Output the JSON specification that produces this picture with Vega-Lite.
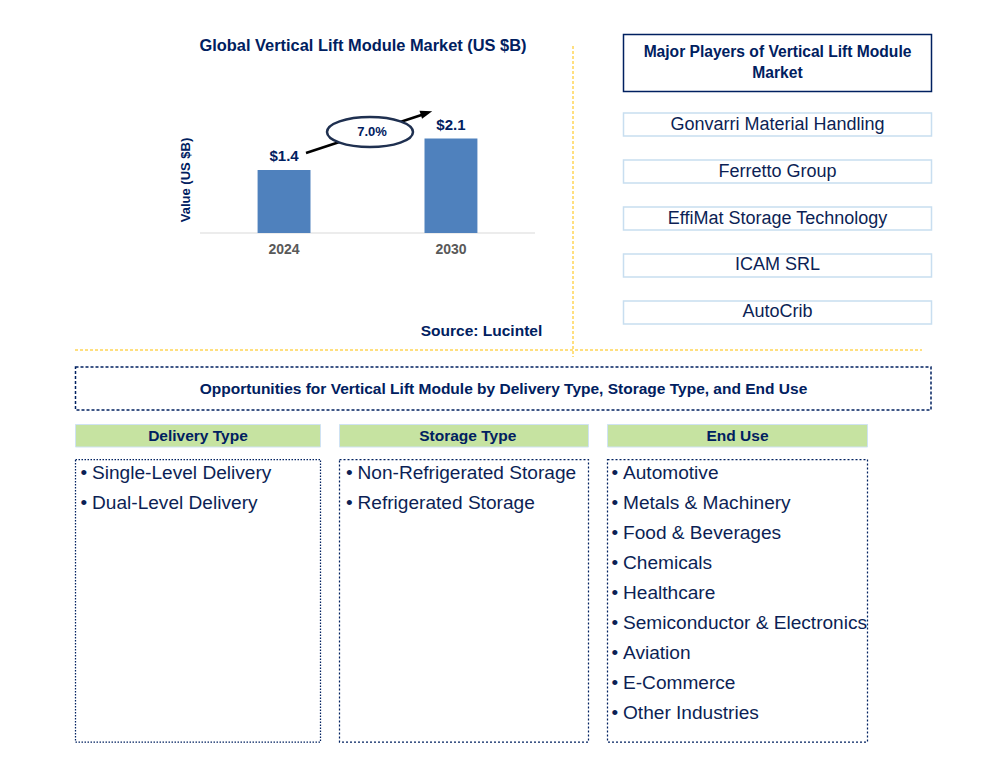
{
  "$schema": "https://vega.github.io/schema/vega-lite/v6.json",
  "width": 996,
  "height": 763,
  "autosize": "none",
  "padding": 0,
  "background": "white",
  "config": {"view": {"stroke": null}, "font": "Liberation Sans"},
  "datasets": {
    "market": [
      {"year": "2024", "value": 1.4, "label": "$1.4"},
      {"year": "2030", "value": 2.1, "label": "$2.1"}
    ],
    "players": [
      {"player": "Gonvarri Material Handling"},
      {"player": "Ferretto Group"},
      {"player": "EffiMat Storage Technology"},
      {"player": "ICAM SRL"},
      {"player": "AutoCrib"}
    ],
    "segments": [
      {"segment": "Delivery Type"},
      {"segment": "Storage Type"},
      {"segment": "End Use"}
    ],
    "opportunities": [
      {"segment": "Delivery Type", "item": "Single-Level Delivery"},
      {"segment": "Delivery Type", "item": "Dual-Level Delivery"},
      {"segment": "Storage Type", "item": "Non-Refrigerated Storage"},
      {"segment": "Storage Type", "item": "Refrigerated Storage"},
      {"segment": "End Use", "item": "Automotive"},
      {"segment": "End Use", "item": "Metals & Machinery"},
      {"segment": "End Use", "item": "Food & Beverages"},
      {"segment": "End Use", "item": "Chemicals"},
      {"segment": "End Use", "item": "Healthcare"},
      {"segment": "End Use", "item": "Semiconductor & Electronics"},
      {"segment": "End Use", "item": "Aviation"},
      {"segment": "End Use", "item": "E-Commerce"},
      {"segment": "End Use", "item": "Other Industries"}
    ]
  },
  "layer": [
    {
      "data": {"name": "market"},
      "mark": {"type": "line", "color": "#d9d9d9", "strokeWidth": 1},
      "encoding": {
        "x": {"field": "year", "type": "nominal", "scale": {"type": "point", "domain": ["2024", "2030"], "range": [200, 535], "padding": 0}, "axis": null},
        "y": {"datum": 0, "type": "quantitative", "scale": {"domain": [0, 3], "range": [233, 98], "nice": false, "zero": true}, "axis": null}
      }
    },
    {
      "data": {"name": "market"},
      "mark": {"type": "bar", "color": "#4f81bd"},
      "encoding": {
        "x": {"field": "year", "type": "nominal", "scale": {"type": "band", "domain": ["2024", "2030"], "range": [200, 535], "paddingInner": 0.683, "paddingOuter": 0.345}, "axis": null},
        "y": {"field": "value", "type": "quantitative", "scale": {"domain": [0, 3], "range": [233, 98], "nice": false, "zero": true}, "axis": null}
      }
    },
    {
      "data": {"name": "market"},
      "mark": {"type": "text", "fontSize": 15, "fontWeight": "bold", "color": "#002060", "dy": -14},
      "encoding": {
        "x": {"field": "year", "type": "nominal", "scale": {"type": "band", "domain": ["2024", "2030"], "range": [200, 535], "paddingInner": 0.683, "paddingOuter": 0.345}, "axis": null},
        "y": {"field": "value", "type": "quantitative", "scale": {"domain": [0, 3], "range": [233, 98], "nice": false, "zero": true}, "axis": null},
        "text": {"field": "label"}
      }
    },
    {
      "data": {"name": "market"},
      "mark": {"type": "text", "fontSize": 14, "fontWeight": "bold", "color": "#595959", "dy": 17},
      "encoding": {
        "x": {"field": "year", "type": "nominal", "scale": {"type": "band", "domain": ["2024", "2030"], "range": [200, 535], "paddingInner": 0.683, "paddingOuter": 0.345}, "axis": null},
        "y": {"datum": 0, "type": "quantitative", "scale": {"domain": [0, 3], "range": [233, 98], "nice": false, "zero": true}, "axis": null},
        "text": {"field": "year"}
      }
    },
    {
      "data": {"values": [{"title": "Global Vertical Lift Module Market (US $B)"}]},
      "mark": {"type": "text", "fontSize": 16.4, "fontWeight": "bold", "color": "#002060"},
      "encoding": {
        "x": {"datum": 363, "type": "quantitative", "scale": {"domain": [0, 996], "range": [0, 996], "zero": false, "nice": false}, "axis": null},
        "y": {"datum": 46, "type": "quantitative", "scale": {"domain": [0, 763], "range": [0, 763], "zero": false, "nice": false}, "axis": null},
        "text": {"field": "title"}
      }
    },
    {
      "data": {"values": [{"title": "Value (US $B)"}]},
      "mark": {"type": "text", "fontSize": 13, "fontWeight": "bold", "color": "#002060", "angle": 270},
      "encoding": {
        "x": {"datum": 186, "type": "quantitative", "scale": {"domain": [0, 996], "range": [0, 996], "zero": false, "nice": false}, "axis": null},
        "y": {"datum": 180, "type": "quantitative", "scale": {"domain": [0, 763], "range": [0, 763], "zero": false, "nice": false}, "axis": null},
        "text": {"field": "title"}
      }
    },
    {
      "data": {"values": [{}]},
      "mark": {"type": "rule", "color": "black", "strokeWidth": 2.5},
      "encoding": {
        "x": {"datum": 306, "type": "quantitative", "scale": {"domain": [0, 996], "range": [0, 996], "zero": false, "nice": false}, "axis": null},
        "x2": {"datum": 426},
        "y": {"datum": 153, "type": "quantitative", "scale": {"domain": [0, 763], "range": [0, 763], "zero": false, "nice": false}, "axis": null},
        "y2": {"datum": 113.5}
      }
    },
    {
      "data": {"values": [{}]},
      "mark": {"type": "point", "shape": "M-1,-0.7L1,0L-1,0.7Z", "filled": true, "fill": "black", "strokeWidth": 0, "opacity": 1, "size": 144, "angle": -18},
      "encoding": {
        "x": {"datum": 426.5, "type": "quantitative", "scale": {"domain": [0, 996], "range": [0, 996], "zero": false, "nice": false}, "axis": null},
        "y": {"datum": 113, "type": "quantitative", "scale": {"domain": [0, 763], "range": [0, 763], "zero": false, "nice": false}, "axis": null}
      }
    },
    {
      "data": {"values": [{}]},
      "mark": {"type": "point", "shape": "M-1,0A1,0.35,0,0,1,1,0A1,0.35,0,0,1,-1,0Z", "filled": true, "fill": "white", "stroke": "#1f3050", "strokeWidth": 2.5, "opacity": 1, "size": 7396},
      "encoding": {
        "x": {"datum": 370, "type": "quantitative", "scale": {"domain": [0, 996], "range": [0, 996], "zero": false, "nice": false}, "axis": null},
        "y": {"datum": 132, "type": "quantitative", "scale": {"domain": [0, 763], "range": [0, 763], "zero": false, "nice": false}, "axis": null}
      }
    },
    {
      "data": {"values": [{"cagr": "7.0%"}]},
      "mark": {"type": "text", "fontSize": 13, "fontWeight": "bold", "color": "#002060"},
      "encoding": {
        "x": {"datum": 372, "type": "quantitative", "scale": {"domain": [0, 996], "range": [0, 996], "zero": false, "nice": false}, "axis": null},
        "y": {"datum": 132, "type": "quantitative", "scale": {"domain": [0, 763], "range": [0, 763], "zero": false, "nice": false}, "axis": null},
        "text": {"field": "cagr"}
      }
    },
    {
      "data": {"values": [{"source": "Source: Lucintel"}]},
      "mark": {"type": "text", "fontSize": 15.5, "fontWeight": "bold", "color": "#002060"},
      "encoding": {
        "x": {"datum": 481.5, "type": "quantitative", "scale": {"domain": [0, 996], "range": [0, 996], "zero": false, "nice": false}, "axis": null},
        "y": {"datum": 331, "type": "quantitative", "scale": {"domain": [0, 763], "range": [0, 763], "zero": false, "nice": false}, "axis": null},
        "text": {"field": "source"}
      }
    },
    {
      "data": {"values": [{}]},
      "mark": {"type": "rule", "color": "#ffc000", "strokeWidth": 1, "strokeDash": [3, 2]},
      "encoding": {
        "x": {"datum": 573, "type": "quantitative", "scale": {"domain": [0, 996], "range": [0, 996], "zero": false, "nice": false}, "axis": null},
        "y": {"datum": 46, "type": "quantitative", "scale": {"domain": [0, 763], "range": [0, 763], "zero": false, "nice": false}, "axis": null},
        "y2": {"datum": 357}
      }
    },
    {
      "data": {"values": [{}]},
      "mark": {"type": "rule", "color": "#ffc000", "strokeWidth": 1, "strokeDash": [3, 2]},
      "encoding": {
        "x": {"datum": 75, "type": "quantitative", "scale": {"domain": [0, 996], "range": [0, 996], "zero": false, "nice": false}, "axis": null},
        "x2": {"datum": 922},
        "y": {"datum": 350, "type": "quantitative", "scale": {"domain": [0, 763], "range": [0, 763], "zero": false, "nice": false}, "axis": null}
      }
    },
    {
      "data": {"values": [{}]},
      "mark": {"type": "rect", "fill": "white", "stroke": "#002060", "strokeWidth": 1.5},
      "encoding": {
        "x": {"datum": 623.5, "type": "quantitative", "scale": {"domain": [0, 996], "range": [0, 996], "zero": false, "nice": false}, "axis": null},
        "x2": {"datum": 931.5},
        "y": {"datum": 34.5, "type": "quantitative", "scale": {"domain": [0, 763], "range": [0, 763], "zero": false, "nice": false}, "axis": null},
        "y2": {"datum": 91.5}
      }
    },
    {
      "data": {"values": [{"heading": ["Major Players of Vertical Lift Module", "Market"]}]},
      "mark": {"type": "text", "fontSize": 15.6, "fontWeight": "bold", "color": "#002060", "lineHeight": 21},
      "encoding": {
        "x": {"datum": 777.5, "type": "quantitative", "scale": {"domain": [0, 996], "range": [0, 996], "zero": false, "nice": false}, "axis": null},
        "y": {"datum": 52, "type": "quantitative", "scale": {"domain": [0, 763], "range": [0, 763], "zero": false, "nice": false}, "axis": null},
        "text": {"field": "heading"}
      }
    },
    {
      "data": {"name": "players"},
      "mark": {"type": "rect", "fill": "white", "stroke": "#c8def0", "strokeWidth": 1.5},
      "encoding": {
        "x": {"datum": 623.5, "type": "quantitative", "scale": {"domain": [0, 996], "range": [0, 996], "zero": false, "nice": false}, "axis": null},
        "x2": {"datum": 931.5},
        "y": {"field": "player", "type": "nominal", "scale": {"type": "band", "domain": ["Gonvarri Material Handling", "Ferretto Group", "EffiMat Storage Technology", "ICAM SRL", "AutoCrib"], "range": [113, 324], "paddingInner": 0.51, "paddingOuter": 0}, "axis": null}
      }
    },
    {
      "data": {"name": "players"},
      "mark": {"type": "text", "fontSize": 18, "color": "#0c1f55"},
      "encoding": {
        "x": {"datum": 777.5, "type": "quantitative", "scale": {"domain": [0, 996], "range": [0, 996], "zero": false, "nice": false}, "axis": null},
        "y": {"field": "player", "type": "nominal", "scale": {"type": "band", "domain": ["Gonvarri Material Handling", "Ferretto Group", "EffiMat Storage Technology", "ICAM SRL", "AutoCrib"], "range": [113, 324], "paddingInner": 0.51, "paddingOuter": 0}, "axis": null},
        "text": {"field": "player"}
      }
    },
    {
      "data": {"values": [{}]},
      "mark": {"type": "rect", "fill": "white", "stroke": "#002060", "strokeWidth": 1.5, "strokeDash": [3, 2]},
      "encoding": {
        "x": {"datum": 75.5, "type": "quantitative", "scale": {"domain": [0, 996], "range": [0, 996], "zero": false, "nice": false}, "axis": null},
        "x2": {"datum": 931},
        "y": {"datum": 367, "type": "quantitative", "scale": {"domain": [0, 763], "range": [0, 763], "zero": false, "nice": false}, "axis": null},
        "y2": {"datum": 410}
      }
    },
    {
      "data": {"values": [{"heading": "Opportunities for Vertical Lift Module by Delivery Type, Storage Type, and End Use"}]},
      "mark": {"type": "text", "fontSize": 15.5, "fontWeight": "bold", "color": "#002060"},
      "encoding": {
        "x": {"datum": 503.5, "type": "quantitative", "scale": {"domain": [0, 996], "range": [0, 996], "zero": false, "nice": false}, "axis": null},
        "y": {"datum": 388.5, "type": "quantitative", "scale": {"domain": [0, 763], "range": [0, 763], "zero": false, "nice": false}, "axis": null},
        "text": {"field": "heading"}
      }
    },
    {
      "data": {"values": [{}]},
      "mark": {"type": "rect", "fill": "#c6e3a1", "stroke": "#cfe2f3", "strokeWidth": 1},
      "encoding": {
        "x": {"datum": 75.5, "type": "quantitative", "scale": {"domain": [0, 996], "range": [0, 996], "zero": false, "nice": false}, "axis": null},
        "x2": {"datum": 320.5},
        "y": {"datum": 424.5, "type": "quantitative", "scale": {"domain": [0, 763], "range": [0, 763], "zero": false, "nice": false}, "axis": null},
        "y2": {"datum": 447}
      }
    },
    {
      "data": {"values": [{}]},
      "mark": {"type": "rect", "fill": "#c6e3a1", "stroke": "#cfe2f3", "strokeWidth": 1},
      "encoding": {
        "x": {"datum": 339.5, "type": "quantitative", "scale": {"domain": [0, 996], "range": [0, 996], "zero": false, "nice": false}, "axis": null},
        "x2": {"datum": 588.5},
        "y": {"datum": 424.5, "type": "quantitative", "scale": {"domain": [0, 763], "range": [0, 763], "zero": false, "nice": false}, "axis": null},
        "y2": {"datum": 447}
      }
    },
    {
      "data": {"values": [{}]},
      "mark": {"type": "rect", "fill": "#c6e3a1", "stroke": "#cfe2f3", "strokeWidth": 1},
      "encoding": {
        "x": {"datum": 607.5, "type": "quantitative", "scale": {"domain": [0, 996], "range": [0, 996], "zero": false, "nice": false}, "axis": null},
        "x2": {"datum": 867.5},
        "y": {"datum": 424.5, "type": "quantitative", "scale": {"domain": [0, 763], "range": [0, 763], "zero": false, "nice": false}, "axis": null},
        "y2": {"datum": 447}
      }
    },
    {
      "data": {"name": "segments"},
      "mark": {"type": "text", "fontSize": 15.5, "fontWeight": "bold", "color": "#002060"},
      "encoding": {
        "x": {"field": "segment", "type": "nominal", "scale": {"type": "point", "domain": ["Delivery Type", "Storage Type", "End Use"], "range": [198, 737.5], "padding": 0}, "axis": null},
        "y": {"datum": 436, "type": "quantitative", "scale": {"domain": [0, 763], "range": [0, 763], "zero": false, "nice": false}, "axis": null},
        "text": {"field": "segment"}
      }
    },
    {
      "data": {"values": [{}]},
      "mark": {"type": "rect", "fill": "white", "stroke": "#002060", "strokeWidth": 1.25, "strokeDash": [1.5, 1.5]},
      "encoding": {
        "x": {"datum": 75.5, "type": "quantitative", "scale": {"domain": [0, 996], "range": [0, 996], "zero": false, "nice": false}, "axis": null},
        "x2": {"datum": 320.5},
        "y": {"datum": 459.5, "type": "quantitative", "scale": {"domain": [0, 763], "range": [0, 763], "zero": false, "nice": false}, "axis": null},
        "y2": {"datum": 742}
      }
    },
    {
      "data": {"values": [{}]},
      "mark": {"type": "rect", "fill": "white", "stroke": "#002060", "strokeWidth": 1.25, "strokeDash": [2, 2]},
      "encoding": {
        "x": {"datum": 339.5, "type": "quantitative", "scale": {"domain": [0, 996], "range": [0, 996], "zero": false, "nice": false}, "axis": null},
        "x2": {"datum": 588.5},
        "y": {"datum": 459.5, "type": "quantitative", "scale": {"domain": [0, 763], "range": [0, 763], "zero": false, "nice": false}, "axis": null},
        "y2": {"datum": 742}
      }
    },
    {
      "data": {"values": [{}]},
      "mark": {"type": "rect", "fill": "white", "stroke": "#002060", "strokeWidth": 1.25, "strokeDash": [2, 2]},
      "encoding": {
        "x": {"datum": 607.5, "type": "quantitative", "scale": {"domain": [0, 996], "range": [0, 996], "zero": false, "nice": false}, "axis": null},
        "x2": {"datum": 867.5},
        "y": {"datum": 459.5, "type": "quantitative", "scale": {"domain": [0, 763], "range": [0, 763], "zero": false, "nice": false}, "axis": null},
        "y2": {"datum": 742}
      }
    },
    {
      "data": {"name": "opportunities"},
      "transform": [{"window": [{"op": "row_number", "as": "rank"}], "groupby": ["segment"]}],
      "mark": {"type": "text", "text": "•", "align": "left", "fontSize": 19, "color": "#0c1f55"},
      "encoding": {
        "x": {"field": "segment", "type": "nominal", "scale": {"type": "point", "domain": ["Delivery Type", "Storage Type", "End Use"], "range": [80.5, 611.5], "padding": 0}, "axis": null},
        "y": {"field": "rank", "type": "ordinal", "scale": {"type": "point", "domain": [1, 2, 3, 4, 5, 6, 7, 8, 9], "range": [473, 713], "padding": 0}, "axis": null}
      }
    },
    {
      "data": {"name": "opportunities"},
      "transform": [{"window": [{"op": "row_number", "as": "rank"}], "groupby": ["segment"]}],
      "mark": {"type": "text", "align": "left", "fontSize": 19.1, "color": "#0c1f55", "dx": 11.5},
      "encoding": {
        "x": {"field": "segment", "type": "nominal", "scale": {"type": "point", "domain": ["Delivery Type", "Storage Type", "End Use"], "range": [80.5, 611.5], "padding": 0}, "axis": null},
        "y": {"field": "rank", "type": "ordinal", "scale": {"type": "point", "domain": [1, 2, 3, 4, 5, 6, 7, 8, 9], "range": [473, 713], "padding": 0}, "axis": null},
        "text": {"field": "item"}
      }
    }
  ],
  "resolve": {"scale": {"x": "independent", "y": "independent"}}
}
